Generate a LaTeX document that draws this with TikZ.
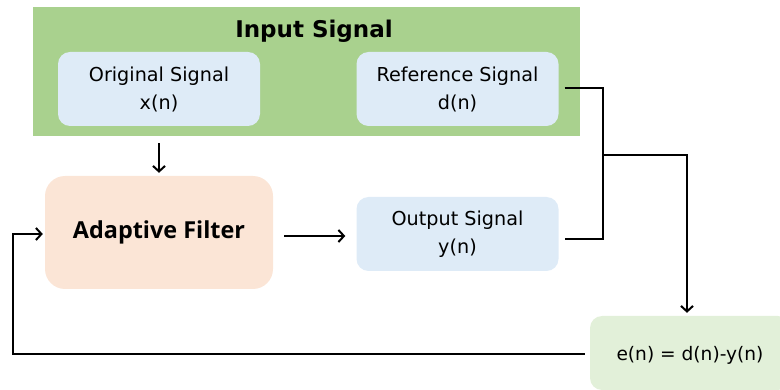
\documentclass[tikz,border=0pt]{standalone}
\usepackage{fontspec}
\setmainfont{DejaVu Sans}
\newfontfamily\osans{Open Sans}
\usetikzlibrary{arrows.meta}
\definecolor{grn}{HTML}{A9D18E}
\definecolor{lblue}{HTML}{DEEBF7}
\definecolor{peach}{HTML}{FBE5D6}
\definecolor{lgrn}{HTML}{E2F0D9}
\tikzset{
  sig/.style={rectangle, rounded corners=12pt, fill=lblue, minimum width=202pt, minimum height=74pt,
    align=center, inner sep=0pt, font=\fontsize{19.2}{28}\selectfont},
  conn/.style={line width=2.6pt, black},
  arr/.style={conn, -{Straight Barb[length=5.5pt,width=12pt,line width=2pt]}},
}
\begin{document}
\begin{tikzpicture}[x=1pt,y=-1pt]
\useasboundingbox (0,0) rectangle (780,390);
\node[rectangle, fill=grn, minimum width=547pt, minimum height=129pt, inner sep=0pt] (inp) at (306.5,72) {};
\node[font=\fontsize{23}{26}\selectfont\bfseries] (title) at (314,31) {Input Signal};
\node[sig] (orig) at (159,89) {Original Signal\\x(n)};
\node[sig] (ref) at (457.5,89) {Reference Signal\\d(n)};
\node[rectangle, rounded corners=20pt, fill=peach, minimum width=228pt, minimum height=113pt, inner sep=0pt,
  font=\osans\fontsize{23.4}{26}\selectfont\bfseries] (filt) at (159,232.5) {Adaptive Filter};
\node[sig] (out) at (457.5,234) {Output Signal\\y(n)};
\node[rectangle, rounded corners=12pt, fill=lgrn, minimum width=200pt, minimum height=74pt, inner sep=0pt] (err) at (690,353) {};
\node[font=\fontsize{18.6}{27}\selectfont] (errt) at (690,355) {e(n) = d(n)-y(n)};
\coordinate (j) at (603,155);
\draw[arr] ([yshift=-17pt]orig.south) -- ([yshift=3pt]filt.north);
\draw[arr] ([xshift=11pt,yshift=-3.5pt]filt.east) -- ([xshift=-11pt,yshift=-2pt]out.west);
\draw[conn] ([xshift=6pt,yshift=1pt]ref.east) -| (j) |- ([xshift=6pt,yshift=-5pt]out.east);
\draw[arr] (j) -| ([xshift=-3pt,yshift=3pt]err.north);
\draw[arr] ([xshift=-5pt,yshift=-1pt]err.west) -| (13,234) -- ([xshift=-2pt,yshift=-1.5pt]filt.west);
\end{tikzpicture}
\end{document}
